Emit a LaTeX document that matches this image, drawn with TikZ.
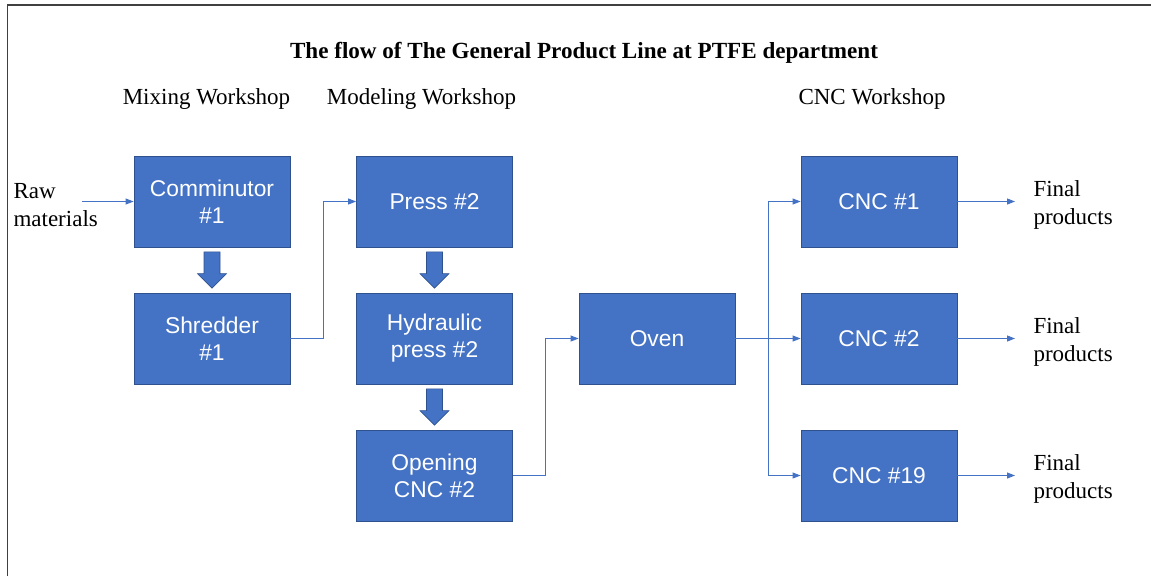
\documentclass[tikz,border=0pt]{standalone}
\usepackage{fontspec}
\setmainfont{Liberation Serif}
\newfontfamily\boxfont{Liberation Sans}
\usetikzlibrary{arrows.meta,calc}
\definecolor{boxblue}{HTML}{4472C4}
\definecolor{boxedge}{HTML}{2F528F}
\definecolor{frameline}{HTML}{404040}

% thick block arrow between two vertically stacked stages
\newcommand\blockarrow[2]{%
  \filldraw[fill=boxblue, draw=boxedge, line width=0.6pt]
    ($(#1.south)+(-8,4.5)$) -- ($(#1.south)+(8,4.5)$) --
    ($(#2.north)+(8,-19)$) -- ($(#2.north)+(14.5,-19)$) --
    ($(#2.north)+(0,-4.5)$) -- ($(#2.north)+(-14.5,-19)$) --
    ($(#2.north)+(-8,-19)$) -- cycle;}

\begin{document}
\begin{tikzpicture}[x=1pt,y=-1pt,
  stage/.style={draw=boxedge, line width=0.8pt, fill=boxblue,
    minimum width=156pt, minimum height=91pt, inner sep=0pt,
    text=white, align=center,
    font=\boxfont\fontsize{22.8}{27}\selectfont},
  flow/.style={draw=boxblue, line width=1pt,
    -{Triangle[length=8pt,width=6pt]}},
  caption/.style={font=\fontsize{23}{28}\selectfont},
  sidetext/.style={font=\fontsize{23}{28}\selectfont, align=left, anchor=west}]
\useasboundingbox (0,0) rectangle (1151,576);

% page frame
\draw[frameline, line width=1.5pt] (7.5,576) -- (7.5,5) -- (1151,5);

% headings
\node[font=\bfseries\fontsize{23.1}{28}\selectfont] (title) at (584,53)
  {The flow of The General Product Line at PTFE department};
\node[caption] (mixws) at (206.5,99) {Mixing Workshop};
\node[caption] (modws) at (421.5,99) {Modeling Workshop};
\node[caption] (cncws) at (872,99) {CNC Workshop};

% stages
\node[stage] (comm)  at (212,201.5)   {Comminutor\\\#1};
\node[stage] (shred) at (212,338.5)   {Shredder\\\#1};
\node[stage] (press) at (434.5,201.5) {Press \#2};
\node[stage] (hydr)  at (434.5,338.5) {Hydraulic\\press \#2};
\node[stage] (open)  at (434.5,475.5) {Opening\\CNC \#2};
\node[stage] (oven)  at (657,338.5)   {Oven};
\node[stage] (cnca)  at (879,201.5)   {CNC \#1};
\node[stage] (cncb)  at (879,338.5)   {CNC \#2};
\node[stage] (cncc)  at (879,475.5)   {CNC \#19};

% input and outputs
\node[sidetext] (raw) at (10,205) {Raw\\materials};
\coordinate (rawend) at (82,201.5);
\node[sidetext] (outa) at (1030,204.5) {Final\\products};
\node[sidetext] (outb) at (1030,341.5) {Final\\products};
\node[sidetext] (outc) at (1030,478.5) {Final\\products};
\coordinate (enda) at (1015,201.5);
\coordinate (endb) at (1015,338.5);
\coordinate (endc) at (1015,475.5);

% block arrows inside workshops
\blockarrow{comm}{shred}
\blockarrow{press}{hydr}
\blockarrow{hydr}{open}

% connectors
\draw[flow] (rawend) -- (comm.west);
\draw[flow] (shred.east) -| ($(shred.east)!0.5!(press.west)$) |- (press.west);
\draw[flow] (open.east) -| ($(open.east)!0.5!(oven.west)$) |- (oven.west);
\coordinate (split) at ($(oven.east)!0.5!(cncb.west)$);
\draw[flow] (oven.east) -- (cncb.west);
\draw[flow] (split) |- (cnca.west);
\draw[flow] (split) |- (cncc.west);
\draw[flow] (cnca.east) -- (enda);
\draw[flow] (cncb.east) -- (endb);
\draw[flow] (cncc.east) -- (endc);
\end{tikzpicture}
\end{document}
